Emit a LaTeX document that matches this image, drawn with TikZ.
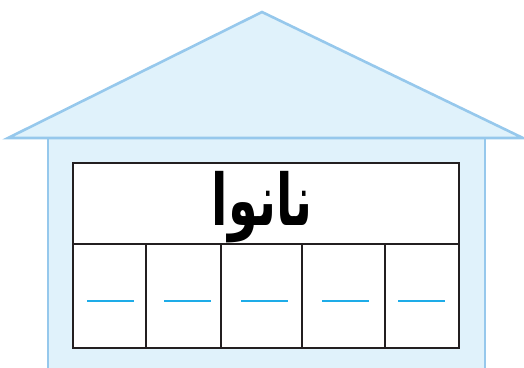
\documentclass[tikz,border=0pt]{standalone}
\usepackage{fontspec}
\usepackage{graphicx}
\usepackage{tikz}
\TeXXeTstate=1
\newfontfamily\arabicfont[Script=Arabic]{DejaVu Sans}
\definecolor{roofline}{RGB}{150, 200, 236}
\definecolor{rooffill}{RGB}{224, 242, 251}
\definecolor{gridline}{RGB}{35, 31, 32}
\definecolor{blankline}{RGB}{30, 172, 232}
\tikzset{
  houseshape/.style={draw=roofline, fill=rooffill, line width=2.6pt, line join=miter},
  wordbox/.style={draw=gridline, fill=white, line width=2.2pt},
  cellline/.style={draw=gridline, line width=1.9pt},
  blankdash/.style={draw=blankline, line width=2.8pt},
  wordlabel/.style={inner sep=0pt, font=\arabicfont\bfseries\fontsize{62}{64}\selectfont}
}
\begin{document}
\begin{tikzpicture}[x=1pt, y=-1pt]
  \clip (0,0) rectangle (524,367);
  % house body and roof
  \draw[houseshape] (48,138) rectangle (485,380);
  \draw[houseshape] (8,138) -- (262,12) -- (523,138) -- cycle;
  % word table
  \draw[wordbox] (73,163) rectangle (459,348);
  \draw[cellline] (73,244) -- (459,244);
  \foreach \cx in {146,221,302,385}
    \draw[cellline] (\cx,244) -- (\cx,348);
  \node[wordlabel] (word) at (262,207) {\scalebox{0.77}[1.15]{\beginR نانوا\endR}};
  % blanks to fill in
  \foreach \dx in {87,164,241,322,398}
    \draw[blankdash] (\dx,301) -- ++(47,0);
\end{tikzpicture}
\end{document}
